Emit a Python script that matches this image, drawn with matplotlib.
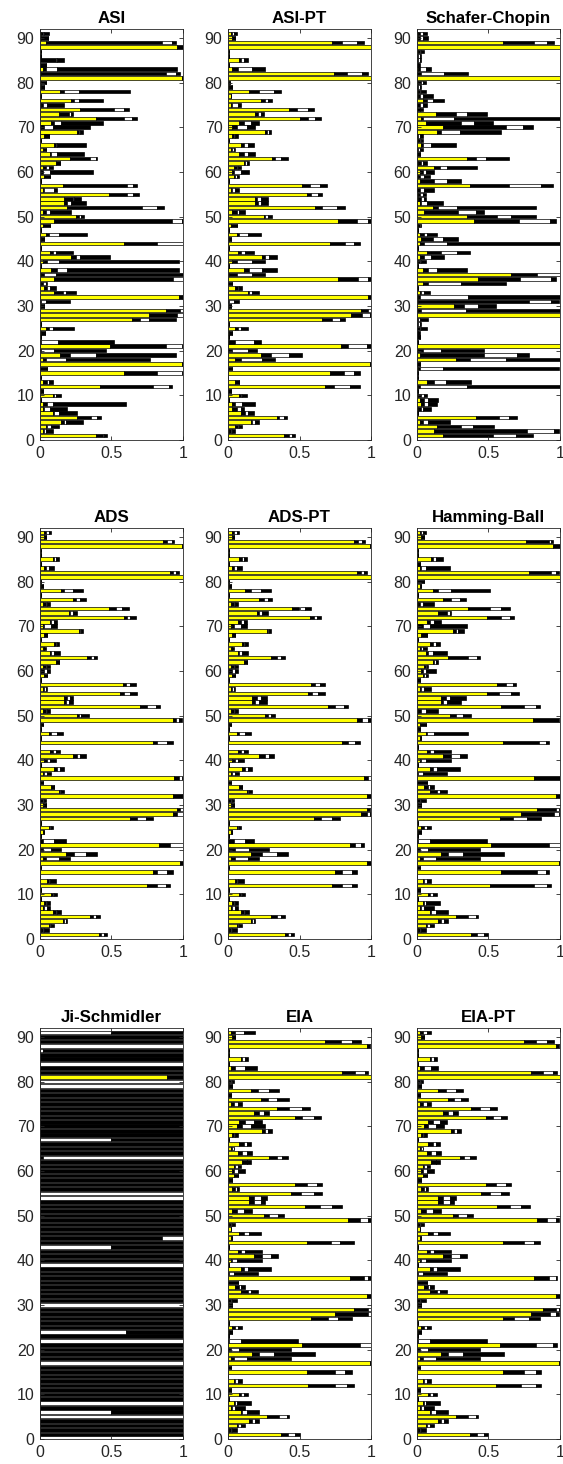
import numpy as np
import matplotlib
matplotlib.use("Agg")
import matplotlib.pyplot as plt

plt.rcParams['font.family'] = ['Liberation Sans', 'DejaVu Sans']

# Each row: (yellow, black, white, black) segment widths; rows listed from 91 (top) down to 1.
asi = [
    (0.01, 0.01, 0.01, 0.03), (0.01, 0.045, 0, 0), (0.04, 0.81, 0.07, 0.03), (0.96, 0.04, 0, 0),
    (0.01, 0, 0, 0), (0, 0.01, 0, 0), (0, 0.11, 0.01, 0.05), (0, 0.045, 0, 0),
    (0.02, 0.02, 0.08, 0.84), (0.01, 0.87, 0.07, 0.03), (0.99, 0.01, 0, 0), (0.01, 0.035, 0, 0),
    (0.01, 0.02, 0, 0), (0.14, 0.03, 0.10, 0.36), (0, 0.01, 0, 0), (0.22, 0.02, 0.03, 0.17),
    (0.01, 0.01, 0.03, 0.12), (0.28, 0.24, 0.07, 0.03), (0.13, 0.07, 0.02, 0.01), (0.39, 0.20, 0.05, 0.04),
    (0.08, 0.02, 0.05, 0.29), (0.01, 0.02, 0.06, 0.26), (0.26, 0.01, 0.01, 0.02), (0.03, 0.035, 0, 0),
    (0.01, 0, 0, 0), (0.10, 0.01, 0.01, 0.20), (0.02, 0.02, 0, 0), (0.07, 0.01, 0.04, 0.19),
    (0.21, 0.14, 0.04, 0.01), (0.11, 0.03, 0, 0), (0.02, 0.02, 0.02, 0.03), (0.01, 0.01, 0.05, 0.30),
    (0.03, 0.04, 0, 0), (0.01, 0, 0, 0), (0.16, 0.45, 0.04, 0.03), (0.02, 0.01, 0.07, 0.02),
    (0.48, 0.13, 0.04, 0.04), (0.17, 0.06, 0.01, 0.05), (0.17, 0.02, 0.03, 0.10), (0.19, 0.52, 0.11, 0.05),
    (0.02, 0.02, 0.03, 0.15), (0.25, 0.02, 0.02, 0.02), (0.10, 0.82, 0.07, 0.01), (0.02, 0.05, 0, 0),
    (0.01, 0, 0, 0), (0.04, 0.02, 0.07, 0.20), (0.01, 0.02, 0, 0), (0.59, 0.23, 0.18, 0),
    (0.01, 0, 0, 0), (0.07, 0.02, 0.02, 0.12), (0.22, 0.03, 0.03, 0.21), (0.02, 0.03, 0.08, 0.84),
    (0.01, 0, 0, 0), (0.08, 0.04, 0.07, 0.78), (0.01, 0.02, 0.08, 0.89), (0.10, 0.83, 0.07, 0),
    (0.01, 0.01, 0.02, 0.01), (0.03, 0.02, 0.02, 0.04), (0.10, 0.06, 0.02, 0.07), (0.97, 0.02, 0, 0),
    (0, 0.01, 0.03, 0.17), (0.01, 0.02, 0, 0), (0.88, 0.10, 0.02, 0), (0.76, 0.20, 0.04, 0),
    (0.64, 0.06, 0.06, 0.19), (0.01, 0, 0, 0), (0.04, 0.02, 0.03, 0.15), (0.01, 0.025, 0, 0),
    (0.01, 0, 0, 0), (0, 0.005, 0.12, 0.39), (0.49, 0.39, 0.11, 0), (0, 0.01, 0.09, 0.36),
    (0.14, 0.07, 0.18, 0.56), (0.02, 0.02, 0.14, 0.59), (0.99, 0.01, 0, 0), (0, 0.05, 0, 0),
    (0.59, 0.23, 0.17, 0), (0, 0.005, 0, 0), (0.02, 0.03, 0.01, 0.03), (0.42, 0.37, 0.11, 0.02),
    (0.01, 0.01, 0, 0), (0.09, 0.01, 0.01, 0.04), (0.01, 0, 0, 0), (0.02, 0.03, 0.04, 0.51),
    (0.02, 0.01, 0.04, 0.12), (0.09, 0.01, 0.03, 0.13), (0.26, 0.10, 0.04, 0.03), (0.15, 0.02, 0.01, 0.12),
    (0.04, 0.01, 0.03, 0.05), (0.02, 0.01, 0.01, 0.05), (0.39, 0.05, 0.01, 0.02),
]

asi_pt = [
    (0.02, 0.01, 0.01, 0.02), (0.03, 0.02, 0, 0), (0.73, 0.07, 0.10, 0.05), (1.0, 0, 0, 0),
    (0.005, 0, 0, 0), (0.005, 0, 0, 0), (0.08, 0.01, 0.02, 0.03), (0.01, 0, 0, 0),
    (0.03, 0.04, 0.10, 0.09), (0.74, 0.09, 0.11, 0.04), (1.0, 0, 0, 0), (0.01, 0.005, 0, 0),
    (0.01, 0.02, 0, 0), (0.15, 0.07, 0.10, 0.05), (0.02, 0, 0, 0), (0.23, 0.03, 0.02, 0.03),
    (0.02, 0.01, 0.04, 0.02), (0.43, 0.05, 0.08, 0.04), (0.19, 0.02, 0.02, 0.02), (0.50, 0.06, 0.05, 0.04),
    (0.08, 0.03, 0.05, 0.06), (0.03, 0.03, 0.07, 0.06), (0.26, 0.01, 0.02, 0.01), (0.03, 0.01, 0.01, 0.02),
    (0.01, 0, 0, 0), (0.09, 0.02, 0.03, 0.04), (0.02, 0.01, 0.01, 0.01), (0.08, 0.03, 0.03, 0.05),
    (0.31, 0.02, 0.04, 0.05), (0.11, 0.01, 0.01, 0.02), (0.04, 0.02, 0.01, 0.02), (0.03, 0.01, 0.05, 0.06),
    (0.04, 0.01, 0.01, 0.02), (0.01, 0, 0, 0), (0.52, 0.05, 0.07, 0.05), (0.02, 0.01, 0.02, 0.03),
    (0.55, 0.03, 0.05, 0.03), (0.19, 0.01, 0.03, 0.05), (0.19, 0.02, 0.02, 0.05), (0.61, 0.05, 0.10, 0.06),
    (0.03, 0.03, 0.02, 0.04), (0.25, 0.01, 0.02, 0.03), (0.77, 0.13, 0.08, 0.02), (0.02, 0.04, 0, 0),
    (0.01, 0, 0, 0), (0.06, 0.02, 0.06, 0.09), (0.01, 0.01, 0, 0), (0.71, 0.11, 0.06, 0.04),
    (0.005, 0, 0, 0), (0.07, 0.02, 0.03, 0.06), (0.24, 0.02, 0.03, 0.05), (0.03, 0.03, 0.11, 0.09),
    (0.005, 0, 0, 0), (0.11, 0.04, 0.09, 0.10), (0.01, 0.05, 0.11, 0.09), (0.77, 0.14, 0.07, 0.02),
    (0, 0.03, 0, 0), (0.05, 0.02, 0.01, 0.02), (0.14, 0.01, 0.02, 0.05), (0.98, 0.02, 0, 0),
    (0, 0.01, 0.03, 0.04), (0.01, 0.01, 0, 0), (0.93, 0.05, 0.02, 0), (0.86, 0.08, 0.05, 0.01),
    (0.66, 0.07, 0.05, 0.04), (0.005, 0, 0, 0), (0.05, 0.02, 0.02, 0.05), (0.01, 0.02, 0, 0),
    (0.005, 0, 0, 0), (0.01, 0.04, 0.13, 0.05), (0.79, 0.05, 0.13, 0.03), (0, 0.03, 0.11, 0.06),
    (0.23, 0.07, 0.13, 0.09), (0.05, 0.04, 0.15, 0.09), (0.99, 0.01, 0, 0), (0, 0.03, 0, 0),
    (0.71, 0.10, 0.07, 0.04), (0, 0, 0, 0), (0.05, 0.03, 0, 0), (0.68, 0.06, 0.11, 0.07),
    (0, 0.02, 0, 0), (0.08, 0.01, 0.01, 0.03), (0.005, 0, 0, 0), (0.03, 0.02, 0.05, 0.09),
    (0.03, 0.03, 0.03, 0.02), (0.09, 0.03, 0.02, 0.04), (0.34, 0.02, 0.03, 0.02), (0.16, 0.01, 0.02, 0.03),
    (0.05, 0.02, 0.01, 0.02), (0.01, 0.01, 0.01, 0.02), (0.39, 0.04, 0.02, 0.02),
]

schafer_chopin = [
    (0.01, 0.01, 0.02, 0.03), (0.01, 0.01, 0.02, 0.04), (0.60, 0.22, 0.09, 0.05), (1.0, 0, 0, 0),
    (0.01, 0.01, 0.01, 0.02), (0, 0.01, 0.01, 0.01), (0, 0.01, 0.01, 0.01), (0, 0.01, 0, 0.01),
    (0.01, 0.01, 0.04, 0.04), (0, 0.03, 0.16, 0.17), (1.0, 0, 0, 0), (0.01, 0.02, 0.01, 0.02),
    (0, 0.01, 0.01, 0.01), (0.01, 0.01, 0.01, 0.03), (0.01, 0.01, 0.02, 0.07), (0.04, 0.03, 0.04, 0.08),
    (0, 0.02, 0.02, 0.03), (0, 0.02, 0, 0.02), (0.13, 0.14, 0.08, 0.14), (0.03, 0.01, 0.22, 0.74),
    (0.06, 0.25, 0.09, 0.13), (0.18, 0.44, 0.12, 0.07), (0.14, 0.03, 0.13, 0.29), (0, 0.01, 0.01, 0.02),
    (0.01, 0.01, 0.01, 0.01), (0.03, 0.01, 0.06, 0.17), (0, 0.01, 0.01, 0.02), (0, 0.02, 0, 0),
    (0.35, 0.06, 0.07, 0.16), (0.01, 0.02, 0.01, 0.03), (0.12, 0.04, 0.05, 0.21), (0.02, 0.02, 0.02, 0.06),
    (0.01, 0.01, 0.03, 0.04), (0.02, 0.10, 0.09, 0.10), (0.37, 0.27, 0.23, 0.08), (0, 0.02, 0.03, 0.07),
    (0.01, 0.01, 0.02, 0.02), (0.01, 0.02, 0.02, 0.01), (0.02, 0.01, 0.04, 0.11), (0.11, 0.04, 0.13, 0.55),
    (0.05, 0.24, 0.12, 0.06), (0.35, 0.21, 0.10, 0.17), (0.40, 0.31, 0.22, 0.04), (0.01, 0.01, 0.01, 0),
    (0.005, 0, 0, 0), (0.02, 0.03, 0.02, 0.07), (0.03, 0.08, 0.07, 0.11), (0.02, 0.03, 0.16, 0.79),
    (0, 0.01, 0, 0), (0.07, 0.10, 0.11, 0.09), (0.02, 0.03, 0.05, 0.09), (0.01, 0.01, 0.01, 0.03),
    (0.005, 0, 0, 0), (0.04, 0.04, 0.06, 0.21), (0.66, 0.18, 0.16, 0), (0.43, 0.29, 0.22, 0.03),
    (0.04, 0.04, 0.23, 0.31), (0, 0.01, 0, 0), (0.02, 0.01, 0.02, 0.04), (0.01, 0.01, 0.34, 0.64),
    (0.01, 0.77, 0.16, 0.05), (0.26, 0.07, 0.10, 0.12), (0.01, 0.02, 0.31, 0.66), (1.0, 0, 0, 0),
    (0, 0.01, 0.01, 0.06), (0, 0.01, 0.01, 0.01), (0, 0.02, 0.01, 0.04), (0, 0.01, 0, 0.01),
    (0, 0.02, 0, 0), (0, 0.01, 0, 0), (1.0, 0, 0, 0), (0.01, 0.03, 0.13, 0.30),
    (0.02, 0.45, 0.23, 0.08), (0.27, 0.10, 0.25, 0.38), (0, 0.02, 0, 0), (0.01, 0.01, 0.16, 0.81),
    (0, 0.01, 0, 0), (0, 0.01, 0, 0), (0.07, 0.05, 0.08, 0.18), (0.01, 0.01, 0.33, 0.65),
    (0, 0.01, 0, 0), (0.01, 0.02, 0.02, 0.02), (0.02, 0.03, 0.03, 0.07), (0.03, 0.02, 0.03, 0.06),
    (0.01, 0.02, 0.01, 0.06), (0, 0.01, 0, 0), (0.41, 0.16, 0.07, 0.06), (0.02, 0.02, 0.04, 0.15),
    (0.14, 0.17, 0.08, 0.15), (0.12, 0.65, 0.19, 0.03), (0.18, 0.35, 0.16, 0.12),
]

ads = [
    (0.03, 0.01, 0.02, 0.02), (0.03, 0.01, 0, 0), (0.86, 0.03, 0.03, 0.02), (0.99, 0.01, 0, 0),
    (0.005, 0, 0, 0), (0.005, 0, 0, 0), (0.09, 0.01, 0.01, 0.02), (0.005, 0, 0, 0),
    (0.03, 0.01, 0.02, 0.04), (0.91, 0.02, 0.02, 0.02), (1.0, 0, 0, 0), (0.01, 0, 0, 0),
    (0.01, 0.01, 0, 0), (0.15, 0.02, 0.06, 0.07), (0.005, 0, 0, 0), (0.23, 0.02, 0.03, 0.04),
    (0.02, 0.02, 0.01, 0.02), (0.48, 0.05, 0.04, 0.05), (0.20, 0.01, 0.02, 0.03), (0.59, 0.02, 0.02, 0.04),
    (0.07, 0.01, 0.02, 0.02), (0.02, 0.01, 0.05, 0.04), (0.27, 0.01, 0.01, 0.01), (0.03, 0.02, 0, 0),
    (0.005, 0, 0, 0), (0.10, 0.01, 0.01, 0.01), (0.02, 0.01, 0, 0.01), (0.07, 0.01, 0.02, 0.04),
    (0.33, 0.03, 0.02, 0.02), (0.11, 0.02, 0, 0), (0.02, 0.02, 0.01, 0.02), (0.01, 0.02, 0.02, 0.02),
    (0.03, 0.02, 0, 0), (0.005, 0, 0, 0), (0.58, 0.02, 0.03, 0.04), (0.02, 0.01, 0.01, 0.01),
    (0.56, 0.03, 0.04, 0.05), (0.17, 0.02, 0.02, 0.02), (0.17, 0.01, 0.02, 0.03), (0.70, 0.05, 0.06, 0.03),
    (0.02, 0.02, 0.01, 0.02), (0.26, 0.01, 0.02, 0.05), (0.93, 0.02, 0.02, 0.02), (0.01, 0.01, 0, 0),
    (0.01, 0, 0, 0), (0.06, 0.02, 0.04, 0.04), (0.01, 0, 0, 0), (0.79, 0.03, 0.07, 0.04),
    (0, 0, 0, 0), (0.07, 0.02, 0.02, 0.03), (0.23, 0.03, 0.02, 0.04), (0.03, 0.02, 0.02, 0.04),
    (0.01, 0, 0, 0), (0.10, 0.02, 0.02, 0.03), (0.02, 0.01, 0.02, 0.03), (0.94, 0.03, 0.02, 0),
    (0, 0.02, 0, 0), (0.08, 0.02, 0, 0), (0.13, 0.01, 0.01, 0.02), (0.93, 0.06, 0, 0),
    (0, 0.02, 0.01, 0.01), (0.02, 0.02, 0, 0), (0.96, 0.02, 0.02, 0), (0.93, 0.03, 0.04, 0),
    (0.63, 0.05, 0.06, 0.05), (0.005, 0, 0, 0), (0.06, 0.01, 0.01, 0.01), (0.02, 0.01, 0, 0),
    (0.005, 0, 0, 0), (0, 0.02, 0.08, 0.08), (0.83, 0.08, 0.09, 0), (0, 0.02, 0.06, 0.07),
    (0.18, 0.06, 0.08, 0.08), (0.02, 0.02, 0.09, 0.08), (0.98, 0.02, 0, 0), (0, 0.01, 0, 0),
    (0.79, 0.03, 0.07, 0.04), (0, 0, 0, 0), (0.05, 0.01, 0.01, 0.04), (0.75, 0.07, 0.06, 0.03),
    (0.005, 0, 0, 0), (0.08, 0.01, 0.01, 0.02), (0.005, 0, 0, 0), (0.03, 0.01, 0.01, 0.02),
    (0.02, 0.01, 0.02, 0.02), (0.09, 0.02, 0.01, 0.03), (0.35, 0.02, 0.02, 0.03), (0.16, 0.01, 0.01, 0.01),
    (0.06, 0.01, 0.01, 0.02), (0.01, 0.01, 0.01, 0.03), (0.41, 0.02, 0.02, 0.02),
]

ads_pt = [
    (0.03, 0.01, 0.02, 0.02), (0.03, 0.01, 0, 0), (0.88, 0.03, 0.03, 0.02), (0.99, 0.01, 0, 0),
    (0.005, 0, 0, 0), (0.005, 0, 0, 0), (0.08, 0.02, 0.01, 0.02), (0.005, 0, 0, 0),
    (0.03, 0.01, 0.02, 0.04), (0.90, 0.03, 0.02, 0.02), (1.0, 0, 0, 0), (0.01, 0, 0, 0),
    (0.01, 0.01, 0, 0), (0.12, 0.04, 0.07, 0.07), (0.005, 0, 0, 0), (0.22, 0.03, 0.03, 0.03),
    (0.02, 0.02, 0.01, 0.02), (0.45, 0.05, 0.04, 0.04), (0.20, 0.02, 0.02, 0.04), (0.57, 0.03, 0.02, 0.03),
    (0.07, 0.02, 0.02, 0.02), (0.02, 0.02, 0.05, 0.04), (0.27, 0.01, 0.01, 0.01), (0.03, 0.02, 0, 0),
    (0.005, 0, 0, 0), (0.10, 0.01, 0.01, 0.02), (0.02, 0.01, 0, 0.01), (0.07, 0.01, 0.02, 0.04),
    (0.30, 0.04, 0.03, 0.03), (0.11, 0.02, 0, 0), (0.02, 0.02, 0.01, 0.02), (0.01, 0.02, 0.02, 0.02),
    (0.03, 0.02, 0, 0), (0.005, 0, 0, 0), (0.58, 0.03, 0.03, 0.04), (0.02, 0.01, 0.01, 0.01),
    (0.56, 0.03, 0.04, 0.05), (0.17, 0.03, 0.03, 0.04), (0.17, 0.02, 0.03, 0.05), (0.70, 0.05, 0.06, 0.03),
    (0.02, 0.02, 0.01, 0.02), (0.26, 0.02, 0.02, 0.03), (0.90, 0.04, 0.04, 0.02), (0.01, 0.01, 0, 0),
    (0.01, 0, 0, 0), (0.06, 0.02, 0.04, 0.04), (0.01, 0, 0, 0), (0.80, 0.04, 0.05, 0.03),
    (0, 0, 0, 0), (0.07, 0.02, 0.02, 0.03), (0.22, 0.04, 0.03, 0.03), (0.03, 0.02, 0.02, 0.04),
    (0.01, 0, 0, 0), (0.10, 0.02, 0.02, 0.03), (0.02, 0.01, 0.02, 0.03), (0.95, 0.03, 0.02, 0),
    (0, 0.02, 0, 0), (0.08, 0.02, 0, 0), (0.13, 0.01, 0.01, 0.02), (0.97, 0.03, 0, 0),
    (0, 0.02, 0.01, 0.01), (0.02, 0.02, 0, 0), (0.97, 0.02, 0.01, 0), (0.93, 0.04, 0.02, 0.01),
    (0.60, 0.05, 0.08, 0.05), (0.005, 0, 0, 0), (0.06, 0.01, 0.01, 0.01), (0.02, 0.01, 0, 0),
    (0.005, 0, 0, 0), (0, 0.04, 0.08, 0.06), (0.85, 0.04, 0.04, 0.02), (0.01, 0.04, 0.10, 0.14),
    (0.16, 0.08, 0.10, 0.08), (0.02, 0.03, 0.09, 0.08), (0.97, 0.03, 0, 0), (0, 0.01, 0, 0),
    (0.75, 0.05, 0.07, 0.03), (0, 0, 0, 0), (0.05, 0.01, 0.01, 0.04), (0.73, 0.07, 0.07, 0.03),
    (0.005, 0, 0, 0), (0.08, 0.01, 0.01, 0.02), (0.005, 0, 0, 0), (0.03, 0.01, 0.01, 0.02),
    (0.02, 0.01, 0.02, 0.02), (0.09, 0.02, 0.01, 0.03), (0.30, 0.04, 0.03, 0.03), (0.16, 0.01, 0.01, 0.01),
    (0.06, 0.01, 0.01, 0.02), (0.01, 0.01, 0.01, 0.03), (0.40, 0.02, 0.02, 0.02),
]

hamming_ball = [
    (0.02, 0.01, 0.01, 0.02), (0.03, 0.02, 0, 0), (0.76, 0.16, 0.02, 0.01), (0.95, 0.05, 0, 0),
    (0.005, 0, 0, 0), (0.005, 0, 0, 0), (0.10, 0.01, 0.02, 0.05), (0, 0.02, 0, 0),
    (0.02, 0.01, 0.03, 0.17), (0.78, 0.16, 0.03, 0.02), (1.0, 0, 0, 0), (0, 0.05, 0, 0),
    (0.02, 0.01, 0, 0), (0.11, 0.04, 0.09, 0.27), (0.005, 0, 0, 0), (0.18, 0.06, 0.06, 0.04),
    (0.01, 0.01, 0.02, 0.08), (0.36, 0.15, 0.08, 0.06), (0.15, 0.06, 0.02, 0.01), (0.49, 0.10, 0.06, 0.03),
    (0.07, 0.02, 0.03, 0.05), (0.01, 0.03, 0.05, 0.26), (0.25, 0.02, 0.02, 0.04), (0.03, 0.04, 0, 0),
    (0.005, 0, 0, 0), (0.09, 0.02, 0.02, 0.03), (0.02, 0.01, 0.01, 0.03), (0.06, 0.02, 0.03, 0.10),
    (0.22, 0.14, 0.06, 0.02), (0.11, 0.01, 0.01, 0.02), (0.05, 0.01, 0.01, 0.01), (0.03, 0.01, 0.02, 0.07),
    (0.04, 0.01, 0.01, 0.02), (0, 0.02, 0, 0), (0.56, 0.06, 0.05, 0.02), (0.02, 0.01, 0.02, 0.05),
    (0.49, 0.08, 0.09, 0.05), (0.17, 0.03, 0.03, 0.11), (0.17, 0.01, 0.03, 0.10), (0.59, 0.16, 0.08, 0.03),
    (0.01, 0.02, 0.03, 0.09), (0.23, 0.04, 0.05, 0.06), (0.81, 0.18, 0.01, 0), (0.02, 0.04, 0, 0),
    (0.01, 0.01, 0, 0), (0.06, 0.01, 0.05, 0.24), (0.02, 0.01, 0, 0), (0.60, 0.25, 0.05, 0.02),
    (0.005, 0, 0, 0), (0.07, 0.02, 0.03, 0.12), (0.18, 0.06, 0.06, 0.05), (0.02, 0.01, 0.03, 0.18),
    (0.005, 0, 0, 0), (0.09, 0.02, 0.03, 0.16), (0, 0.01, 0.03, 0.17), (0.82, 0.18, 0, 0),
    (0, 0.07, 0, 0), (0.05, 0.03, 0.01, 0.03), (0.09, 0.05, 0.02, 0.05), (0.97, 0.03, 0, 0),
    (0, 0.02, 0.01, 0.03), (0.01, 0.02, 0, 0), (0.84, 0.13, 0.02, 0), (0.73, 0.23, 0.03, 0),
    (0.58, 0.09, 0.10, 0.10), (0.01, 0, 0, 0), (0.03, 0.02, 0.02, 0.03), (0.01, 0.02, 0, 0),
    (0, 0.01, 0, 0), (0, 0.01, 0.08, 0.40), (0.52, 0.40, 0.08, 0), (0, 0.02, 0.06, 0.36),
    (0.17, 0.05, 0.10, 0.29), (0.02, 0.02, 0.09, 0.31), (0.99, 0.01, 0, 0), (0, 0.02, 0, 0),
    (0.59, 0.25, 0.06, 0.02), (0, 0, 0, 0), (0.04, 0.01, 0.02, 0.03), (0.51, 0.31, 0.09, 0.03),
    (0, 0.02, 0, 0), (0.08, 0.01, 0.02, 0.03), (0.005, 0, 0, 0), (0.04, 0.01, 0.01, 0.10),
    (0.02, 0.01, 0.02, 0.07), (0.09, 0.01, 0.03, 0.09), (0.27, 0.09, 0.05, 0.02), (0.15, 0.02, 0.02, 0.03),
    (0.06, 0.01, 0.02, 0.03), (0.01, 0.01, 0.01, 0.03), (0.38, 0.04, 0.05, 0.03),
]

ji_schmidler = [
    (0, 0, 0.5, 0.5), (0, 1, 0, 0), (0, 1, 0, 0), (0, 0, 1, 0),
    (0, 0, 0.02, 0.98), (0, 1, 0, 0), (0, 1, 0, 0), (0, 0, 1, 0),
    (0, 1, 0, 0), (0, 1, 0, 0), (0.89, 0.11, 0, 0), (0, 0, 1, 0),
    (0, 0, 1, 0), (0, 1, 0, 0), (0, 1, 0, 0), (0, 1, 0, 0),
    (0, 1, 0, 0), (0, 1, 0, 0), (0, 1, 0, 0), (0, 1, 0, 0),
    (0, 1, 0, 0), (0, 1, 0, 0), (0, 1, 0, 0), (0, 1, 0, 0),
    (0, 0, 0.5, 0.5), (0, 1, 0, 0), (0, 1, 0, 0), (0, 1, 0, 0),
    (0, 0.02, 0.98, 0), (0, 1, 0, 0), (0, 1, 0, 0), (0, 1, 0, 0),
    (0, 1, 0, 0), (0, 1, 0, 0), (0, 1, 0, 0), (0, 1, 0, 0),
    (0, 0, 1, 0), (0, 0, 1, 0), (0, 1, 0, 0), (0, 1, 0, 0),
    (0, 1, 0, 0), (0, 1, 0, 0), (0, 1, 0, 0), (0, 1, 0, 0),
    (0, 1, 0, 0), (0, 1, 0, 0), (0, 0.85, 0.15, 0), (0, 1, 0, 0),
    (0, 0, 0.5, 0.5), (0, 1, 0, 0), (0, 1, 0, 0), (0, 1, 0, 0),
    (0, 0, 1, 0), (0, 1, 0, 0), (0, 1, 0, 0), (0, 1, 0, 0),
    (0, 1, 0, 0), (0, 1, 0, 0), (0, 1, 0, 0), (0, 1, 0, 0),
    (0, 1, 0, 0), (0, 0, 1, 0), (0, 1, 0, 0), (0, 1, 0, 0),
    (0, 1, 0, 0), (0, 1, 0, 0), (0, 1, 0, 0), (0, 0, 0.6, 0.4),
    (0, 1, 0, 0), (0, 0, 1, 0), (0, 1, 0, 0), (0, 1, 0, 0),
    (0, 1, 0, 0), (0, 1, 0, 0), (0, 0, 1, 0), (0, 1, 0, 0),
    (0, 1, 0, 0), (0, 1, 0, 0), (0, 1, 0, 0), (0, 1, 0, 0),
    (0, 1, 0, 0), (0, 1, 0, 0), (0, 1, 0, 0), (0, 0, 1, 0),
    (0, 1, 0, 0), (0, 0, 0.5, 0.5), (0, 0, 1, 0), (0, 1, 0, 0),
    (0, 1, 0, 0), (0, 1, 0, 0), (0, 1, 0, 0),
]

eia = [
    (0.02, 0.03, 0.06, 0.08), (0.03, 0.02, 0, 0), (0.68, 0.11, 0.08, 0.06), (0.97, 0.02, 0.01, 0),
    (0.005, 0, 0, 0), (0.005, 0, 0, 0), (0.09, 0.01, 0.02, 0.02), (0.005, 0, 0, 0),
    (0.02, 0.03, 0.07, 0.08), (0.80, 0.09, 0.07, 0.02), (1.0, 0, 0, 0), (0.01, 0.01, 0.01, 0.01),
    (0.01, 0.02, 0, 0), (0.16, 0.05, 0.08, 0.07), (0, 0.02, 0, 0), (0.23, 0.05, 0.06, 0.09),
    (0.02, 0.02, 0.03, 0.03), (0.34, 0.09, 0.09, 0.05), (0.18, 0.04, 0.03, 0.04), (0.47, 0.05, 0.08, 0.05),
    (0.08, 0.04, 0.06, 0.06), (0.06, 0.04, 0.06, 0.10), (0.24, 0.02, 0.02, 0.03), (0.03, 0.01, 0.01, 0.02),
    (0.005, 0, 0, 0), (0.08, 0.03, 0.02, 0.03), (0.02, 0.01, 0.01, 0), (0.07, 0.03, 0.03, 0.04),
    (0.29, 0.05, 0.04, 0.04), (0.10, 0.03, 0, 0.03), (0.04, 0.01, 0.02, 0.02), (0.03, 0.01, 0.03, 0.05),
    (0.04, 0.03, 0, 0), (0.01, 0.02, 0, 0), (0.47, 0.08, 0.07, 0.04), (0.03, 0.02, 0.01, 0.02),
    (0.44, 0.07, 0.09, 0.06), (0.15, 0.03, 0.05, 0.04), (0.15, 0.03, 0.05, 0.03), (0.54, 0.10, 0.09, 0.07),
    (0.03, 0.03, 0.05, 0.06), (0.25, 0.04, 0.06, 0.04), (0.84, 0.08, 0.06, 0.02), (0.01, 0.01, 0.01, 0.02),
    (0.02, 0, 0, 0), (0.08, 0.03, 0.04, 0.08), (0.02, 0.01, 0, 0), (0.55, 0.17, 0.06, 0.10),
    (0.005, 0, 0, 0), (0.07, 0.02, 0.03, 0.12), (0.18, 0.06, 0.06, 0.05), (0.02, 0.01, 0.03, 0.18),
    (0.005, 0, 0, 0), (0.09, 0.02, 0.03, 0.16), (0, 0.01, 0.03, 0.17), (0.85, 0.10, 0.03, 0.02),
    (0, 0.07, 0, 0), (0.05, 0.03, 0.01, 0.03), (0.09, 0.05, 0.02, 0.05), (0.97, 0.03, 0, 0),
    (0, 0.02, 0.01, 0.03), (0.01, 0.02, 0, 0), (0.88, 0.10, 0.02, 0), (0.75, 0.23, 0.02, 0),
    (0.58, 0.12, 0.07, 0.10), (0.01, 0, 0, 0), (0.03, 0.02, 0.02, 0.03), (0.01, 0.02, 0, 0),
    (0, 0.01, 0, 0), (0, 0.01, 0.08, 0.40), (0.52, 0.40, 0.08, 0), (0, 0.02, 0.06, 0.36),
    (0.17, 0.05, 0.10, 0.29), (0.02, 0.02, 0.09, 0.31), (0.99, 0.01, 0, 0), (0, 0.02, 0, 0),
    (0.55, 0.20, 0.07, 0.05), (0, 0, 0, 0), (0.04, 0.01, 0.02, 0.03), (0.56, 0.19, 0.08, 0.05),
    (0, 0.02, 0, 0), (0.08, 0.01, 0.02, 0.03), (0.005, 0, 0, 0), (0.04, 0.01, 0.01, 0.10),
    (0.02, 0.01, 0.02, 0.07), (0.09, 0.01, 0.03, 0.09), (0.27, 0.09, 0.05, 0.02), (0.15, 0.02, 0.02, 0.03),
    (0.06, 0.01, 0.02, 0.03), (0.01, 0.01, 0.01, 0.03), (0.37, 0.05, 0.05, 0.03),
]

eia_pt = [
    (0.02, 0.02, 0.03, 0.03), (0.03, 0.02, 0, 0), (0.75, 0.08, 0.08, 0.05), (0.97, 0.02, 0.01, 0),
    (0.005, 0, 0, 0), (0.005, 0, 0, 0), (0.09, 0.01, 0.02, 0.02), (0.005, 0, 0, 0),
    (0.02, 0.03, 0.05, 0.05), (0.80, 0.08, 0.07, 0.03), (1.0, 0, 0, 0), (0.01, 0.01, 0.01, 0.01),
    (0.01, 0.02, 0, 0), (0.15, 0.05, 0.07, 0.05), (0, 0.02, 0, 0), (0.22, 0.04, 0.05, 0.05),
    (0.02, 0.02, 0.03, 0.03), (0.38, 0.06, 0.07, 0.05), (0.18, 0.04, 0.03, 0.04), (0.48, 0.05, 0.06, 0.04),
    (0.08, 0.03, 0.05, 0.05), (0.05, 0.03, 0.05, 0.06), (0.24, 0.02, 0.02, 0.03), (0.03, 0.01, 0.01, 0.02),
    (0.005, 0, 0, 0), (0.08, 0.03, 0.02, 0.03), (0.02, 0.01, 0.01, 0), (0.07, 0.03, 0.03, 0.04),
    (0.30, 0.03, 0.04, 0.04), (0.10, 0.03, 0, 0.03), (0.04, 0.01, 0.02, 0.02), (0.03, 0.01, 0.03, 0.05),
    (0.04, 0.03, 0, 0), (0.01, 0.02, 0, 0), (0.48, 0.07, 0.07, 0.04), (0.03, 0.02, 0.01, 0.02),
    (0.45, 0.06, 0.08, 0.05), (0.15, 0.03, 0.05, 0.04), (0.15, 0.03, 0.05, 0.03), (0.56, 0.09, 0.08, 0.06),
    (0.03, 0.03, 0.05, 0.06), (0.25, 0.04, 0.06, 0.04), (0.84, 0.07, 0.06, 0.02), (0.01, 0.01, 0.01, 0.02),
    (0.02, 0, 0, 0), (0.08, 0.03, 0.04, 0.08), (0.02, 0.01, 0, 0), (0.60, 0.15, 0.07, 0.04),
    (0.005, 0, 0, 0), (0.07, 0.02, 0.03, 0.12), (0.18, 0.06, 0.06, 0.05), (0.02, 0.01, 0.03, 0.18),
    (0.005, 0, 0, 0), (0.09, 0.02, 0.03, 0.16), (0, 0.01, 0.03, 0.17), (0.82, 0.10, 0.05, 0.01),
    (0, 0.07, 0, 0), (0.05, 0.03, 0.01, 0.03), (0.09, 0.05, 0.02, 0.05), (0.97, 0.03, 0, 0),
    (0, 0.02, 0.01, 0.03), (0.01, 0.02, 0, 0), (0.88, 0.09, 0.02, 0.01), (0.80, 0.13, 0.04, 0.02),
    (0.60, 0.08, 0.10, 0.08), (0.01, 0, 0, 0), (0.03, 0.02, 0.02, 0.03), (0.01, 0.02, 0, 0),
    (0, 0.01, 0, 0), (0, 0.01, 0.08, 0.40), (0.58, 0.25, 0.12, 0.03), (0, 0.02, 0.06, 0.36),
    (0.17, 0.05, 0.10, 0.29), (0.02, 0.02, 0.09, 0.31), (0.99, 0.01, 0, 0), (0, 0.02, 0, 0),
    (0.60, 0.15, 0.08, 0.04), (0, 0, 0, 0), (0.04, 0.01, 0.02, 0.03), (0.55, 0.18, 0.10, 0.04),
    (0, 0.02, 0, 0), (0.08, 0.01, 0.02, 0.03), (0.005, 0, 0, 0), (0.04, 0.01, 0.01, 0.10),
    (0.02, 0.01, 0.02, 0.07), (0.09, 0.01, 0.03, 0.09), (0.27, 0.09, 0.05, 0.02), (0.15, 0.02, 0.02, 0.03),
    (0.06, 0.01, 0.02, 0.03), (0.01, 0.01, 0.01, 0.03), (0.37, 0.05, 0.05, 0.03),
]

panel_titles = ["ASI", "ASI-PT", "Schafer-Chopin",
                "ADS", "ADS-PT", "Hamming-Ball",
                "Ji-Schmidler", "EIA", "EIA-PT"]
panel_rows = [asi, asi_pt, schafer_chopin,
              ads, ads_pt, hamming_ball,
              ji_schmidler, eia, eia_pt]
segment_colors = ["#ffff00", "#000000", "#ffffff", "#000000"]
x_ticks = [0, 0.5, 1]
x_ticklabels = ["0", "0.5", "1"]
y_ticks = list(range(0, 91, 10))

W, H = 563, 1464
fig = plt.figure(figsize=(W / 100, H / 100), dpi=100)

col_left = [40, 228, 417]
ax_w = 143
row_top = [29, 528, 1028]
ax_h = 411
axis_grey = "#262626"

for idx, (title, rows) in enumerate(zip(panel_titles, panel_rows)):
    r, c = divmod(idx, 3)
    ax = fig.add_axes([col_left[c] / W, 1 - (row_top[r] + ax_h) / H, ax_w / W, ax_h / H])
    data = np.array(rows, dtype=float)[::-1]
    y = np.arange(1, len(data) + 1)
    left = np.zeros(len(data))
    for k in range(4):
        ax.barh(y, data[:, k], left=left, height=0.8, color=segment_colors[k],
                edgecolor="black", linewidth=0.5)
        left = left + data[:, k]
    ax.set_xlim(0, 1)
    ax.set_ylim(0, 92)
    ax.set_xticks(x_ticks)
    ax.set_xticklabels(x_ticklabels)
    ax.set_yticks(y_ticks)
    ax.tick_params(direction="in", top=True, right=True, length=3, width=0.6,
                   colors=axis_grey, labelsize=11.5, pad=4)
    for sp in ax.spines.values():
        sp.set_linewidth(0.6)
        sp.set_color(axis_grey)
    ax.set_title(title, fontsize=12.2, fontweight="bold", pad=4.5, color="black")

fig.savefig("out.png", dpi=100)
